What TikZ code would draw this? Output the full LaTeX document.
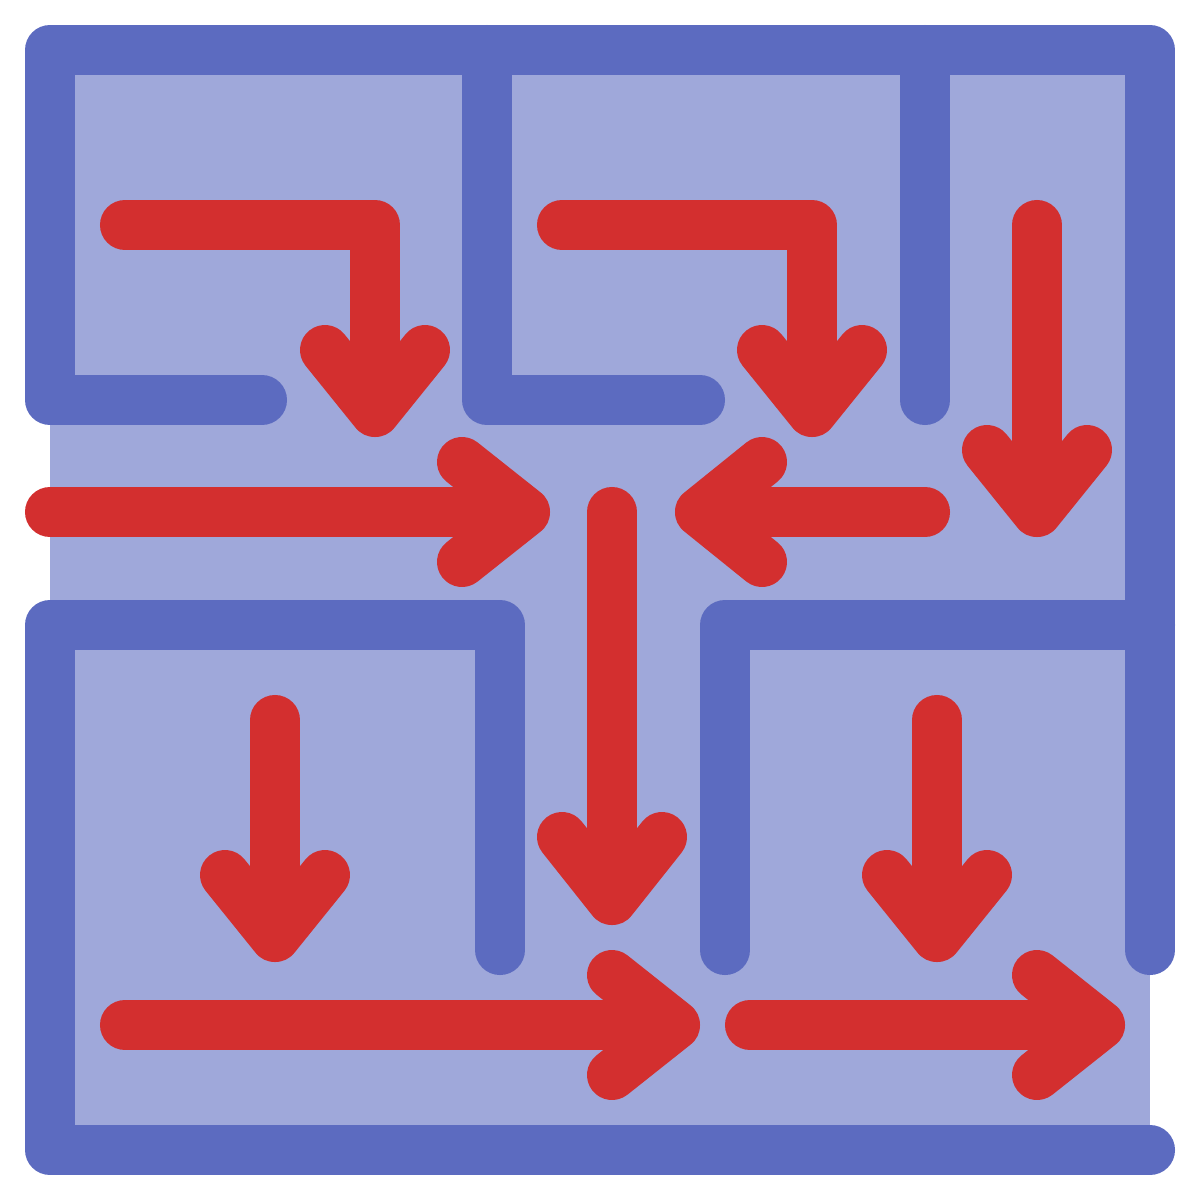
\documentclass[tikz,border=0pt]{standalone}
\usepackage{tikz}
\definecolor{wallblue}{HTML}{5C6BC0}
\definecolor{floorblue}{HTML}{9FA8DA}
\definecolor{routered}{HTML}{D32F2F}
\tikzset{
    % maze walls
    wall/.style={
           draw=wallblue,
           line width=5mm,
           line cap=round,
           line join=round},
    % red routes and their heads
    route/.style={
           draw=routered,
           line width=5mm,
           line cap=round,
           line join=round}
}

\begin{document}
\begin{tikzpicture}[x=0.01cm,y=-0.01cm]
\useasboundingbox (0,0) rectangle (1200,1200);
% floor
\fill[floorblue] (50,50) rectangle (1150,1150);
% walls
\draw[wall] (262,400) -- (50,400) -- (50,50) -- (1150,50) -- (1150,950);
\draw[wall] (487,50) -- (487,400) -- (700,400);
\draw[wall] (925,50) -- (925,400);
\draw[wall] (500,950) -- (500,625) -- (50,625) -- (50,1150) -- (1150,1150);
\draw[wall] (725,950) -- (725,625) -- (1150,625);
% routes
\draw[route] (125,225) -- (375,225) -- (375,400);
\draw[route] (325,350) -- (375,412) -- (425,350);
\draw[route] (562,225) -- (812,225) -- (812,400);
\draw[route] (762,350) -- (812,412) -- (862,350);
\draw[route] (1037,225) -- (1037,500);
\draw[route] (987,450) -- (1037,512) -- (1087,450);
\draw[route] (50,512) -- (515,512);
\draw[route] (462,462) -- (525,512) -- (462,562);
\draw[route] (925,512) -- (710,512);
\draw[route] (762,462) -- (700,512) -- (762,562);
\draw[route] (612,512) -- (612,890);
\draw[route] (562,837) -- (612,900) -- (662,837);
\draw[route] (275,720) -- (275,925);
\draw[route] (225,875) -- (275,937) -- (325,875);
\draw[route] (937,720) -- (937,925);
\draw[route] (887,875) -- (937,937) -- (987,875);
\draw[route] (125,1025) -- (665,1025);
\draw[route] (612,975) -- (675,1025) -- (612,1075);
\draw[route] (750,1025) -- (1090,1025);
\draw[route] (1037,975) -- (1100,1025) -- (1037,1075);
\end{tikzpicture}
\end{document}
